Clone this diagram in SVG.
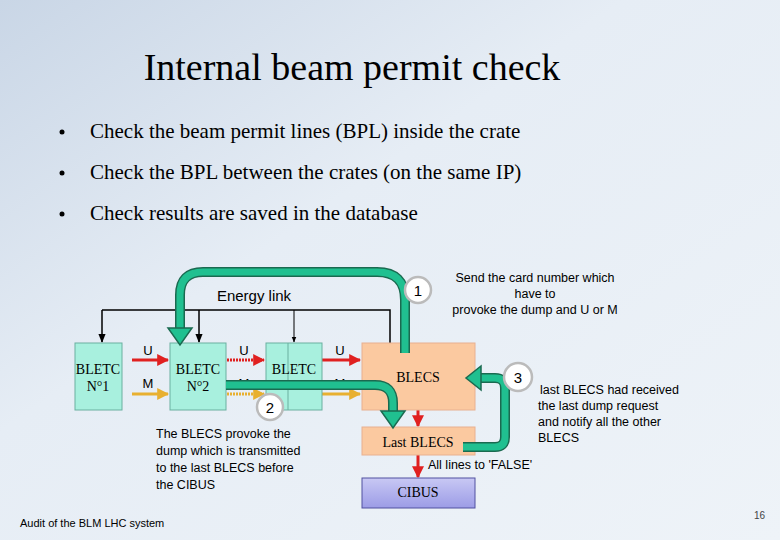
<svg xmlns="http://www.w3.org/2000/svg" width="780" height="540" viewBox="0 0 780 540">
<defs>
<linearGradient id="bg" x1="0" y1="0" x2="1" y2="1"><stop offset="0" stop-color="#c9d6e6"/><stop offset="0.4" stop-color="#e6edf5"/><stop offset="1" stop-color="#eef3f8"/></linearGradient>
<linearGradient id="cib" x1="0" y1="0" x2="0" y2="1"><stop offset="0" stop-color="#c8c8f4"/><stop offset="1" stop-color="#9c9ce6"/></linearGradient>
<marker id="ab" viewBox="0 0 10 10" refX="9" refY="5" markerWidth="6" markerHeight="6" orient="auto"><path d="M0,1 L10,5 L0,9 z" fill="#000"/></marker>
<marker id="ar" viewBox="0 0 10 10" refX="9" refY="5" markerWidth="4" markerHeight="4" orient="auto"><path d="M0,0 L10,5 L0,10 z" fill="#e02020"/></marker>
<marker id="ay" viewBox="0 0 10 10" refX="9" refY="5" markerWidth="4" markerHeight="4" orient="auto"><path d="M0,0 L10,5 L0,10 z" fill="#e8b030"/></marker>
</defs>
<style>
.serif{font-family:"Liberation Serif",serif}
.sans{font-family:"Liberation Sans",Arial,sans-serif}
.bletc{fill:#a8f0de;stroke:#6ab0a0;stroke-width:1}
.blecs{fill:#fbc9a0;stroke:#e8b090;stroke-width:1}
.g{fill:none;stroke:#1a6a50;stroke-width:10;stroke-linejoin:round}
.gi{fill:none;stroke:#20c090;stroke-width:7;stroke-linejoin:round}
.circ{fill:#fff;stroke:#bbb;stroke-width:2.5}
</style>
<rect width="780" height="540" fill="url(#bg)"/>
<text x="352" y="80" class="serif" font-size="38" text-anchor="middle">Internal beam permit check</text>
<g class="serif" font-size="21">
<circle cx="62" cy="132" r="2.5"/><text x="90" y="138">Check the beam permit lines (BPL) inside the crate</text>
<circle cx="62" cy="173" r="2.5"/><text x="90" y="179">Check the BPL between the crates (on the same IP)</text>
<circle cx="62" cy="214" r="2.5"/><text x="90" y="220">Check results are saved in the database</text>
</g>
<g id="connectors">
<path d="M102,310 H390 V343" fill="none" stroke="#000" stroke-width="1.5"/>
<path d="M102,310 V342" stroke="#000" stroke-width="1.5" marker-end="url(#ab)"/>
<path d="M199,310 V342" stroke="#000" stroke-width="1.5" marker-end="url(#ab)"/>
<path d="M294,310 V342" stroke="#000" stroke-width="1" marker-end="url(#ab)"/>
<path d="M132,360 H168" stroke="#e02020" stroke-width="3" marker-end="url(#ar)"/>
<path d="M132,394 H168" stroke="#e8b030" stroke-width="3" marker-end="url(#ay)"/>
<path d="M227,360 H264" stroke="#e02020" stroke-width="3" stroke-dasharray="2,1" marker-end="url(#ar)"/>
<path d="M227,394 H264" stroke="#e8b030" stroke-width="3" stroke-dasharray="2,1" marker-end="url(#ay)"/>
<path d="M322,360 H360" stroke="#e02020" stroke-width="3" marker-end="url(#ar)"/>
<path d="M322,394 H360" stroke="#e8b030" stroke-width="3" marker-end="url(#ay)"/>
<path d="M418,410 V426" stroke="#e02020" stroke-width="3" marker-end="url(#ar)"/>
<path d="M418,455 V477" stroke="#e02020" stroke-width="3" marker-end="url(#ar)"/>
<g class="sans" font-size="13" text-anchor="middle">
<text x="148" y="355">U</text><text x="148" y="388">M</text>
<text x="244" y="355">U</text><text x="244" y="388">M</text>
<text x="340" y="355">U</text><text x="340" y="388">M</text>
</g>
</g>
<g id="n1"><rect class="bletc" x="75" y="343" width="47" height="67"/><text class="serif" font-size="14" x="98" y="374" text-anchor="middle">BLETC</text><text class="serif" font-size="14" x="98" y="391" text-anchor="middle">N°1</text></g>
<g id="n2"><rect class="bletc" x="170" y="343" width="56" height="67"/><text class="serif" font-size="14" x="198" y="374" text-anchor="middle">BLETC</text><text class="serif" font-size="14" x="198" y="391" text-anchor="middle">N°2</text></g>
<g id="n3"><rect class="bletc" x="266" y="343" width="56" height="67"/><line x1="288" y1="343" x2="288" y2="410" stroke="#6ab0a0"/><text class="serif" font-size="14" x="294" y="374" text-anchor="middle">BLETC</text></g>
<g id="blecs"><rect class="blecs" x="362" y="343" width="113" height="67"/><text class="serif" font-size="14" x="418" y="382" text-anchor="middle">BLECS</text></g>
<g id="last"><rect class="blecs" x="362" y="427" width="113" height="28"/><text class="serif" font-size="14" x="418" y="447" text-anchor="middle">Last BLECS</text></g>
<g id="cibus"><rect fill="url(#cib)" stroke="#5050a0" x="362" y="478" width="113" height="30"/><text class="serif" font-size="14" x="418" y="497" text-anchor="middle">CIBUS</text></g>
<g id="greenarrows">
<path class="g" d="M405,353 V300 Q405,272 377,272 H203 Q180,272 180,295 V330"/>
<path class="gi" d="M405,353 V300 Q405,272 377,272 H203 Q180,272 180,295 V330"/>
<path d="M168,328 L192,328 L180,345 z" fill="#20c090" stroke="#1a6a50" stroke-width="1.5"/>
<path class="g" d="M226,385 H375 Q393,385 393,403 V412"/>
<path class="gi" d="M226,385 H375 Q393,385 393,403 V412"/>
<path d="M381,411 L405,411 L393,428 z" fill="#20c090" stroke="#1a6a50" stroke-width="1.5"/>
<path class="g" d="M463,447 H495 Q505,447 505,437 V388 Q505,378 495,378 H480"/>
<path class="gi" d="M463,447 H495 Q505,447 505,437 V388 Q505,378 495,378 H480"/>
<path d="M481,366 L481,390 L466,378 z" fill="#20c090" stroke="#1a6a50" stroke-width="1.5"/>
</g>
<g id="labels" class="sans">
<text x="254" y="301" font-size="15" text-anchor="middle">Energy link</text>
<circle class="circ" cx="418" cy="290" r="13"/><text x="418" y="296" font-size="15" text-anchor="middle">1</text>
<circle class="circ" cx="270" cy="407" r="13"/><text x="270" y="413" font-size="15" text-anchor="middle">2</text>
<circle class="circ" cx="518" cy="377" r="14"/><text x="518" y="383" font-size="15" text-anchor="middle">3</text>
<g font-size="12.5" text-anchor="middle"><text x="535" y="282">Send the card number which</text><text x="535" y="298">have to</text><text x="535" y="314">provoke the dump and U or M</text></g>
<g font-size="12.5"><text x="540" y="394">last BLECS had received</text><text x="538" y="410">the last dump request</text><text x="538" y="426">and notify all the other</text><text x="538" y="442">BLECS</text></g>
<g font-size="12.5"><text x="156" y="438">The BLECS provoke the</text><text x="156" y="455">dump which is transmitted</text><text x="156" y="472">to the last BLECS before</text><text x="156" y="489">the CIBUS</text></g>
<text x="428" y="469" font-size="12.5">All lines to 'FALSE'</text>
<text x="20" y="527" font-size="11">Audit of the BLM LHC system</text>
<text x="765" y="519" font-size="10" text-anchor="end" fill="#444">16</text>
</g>
</svg>
